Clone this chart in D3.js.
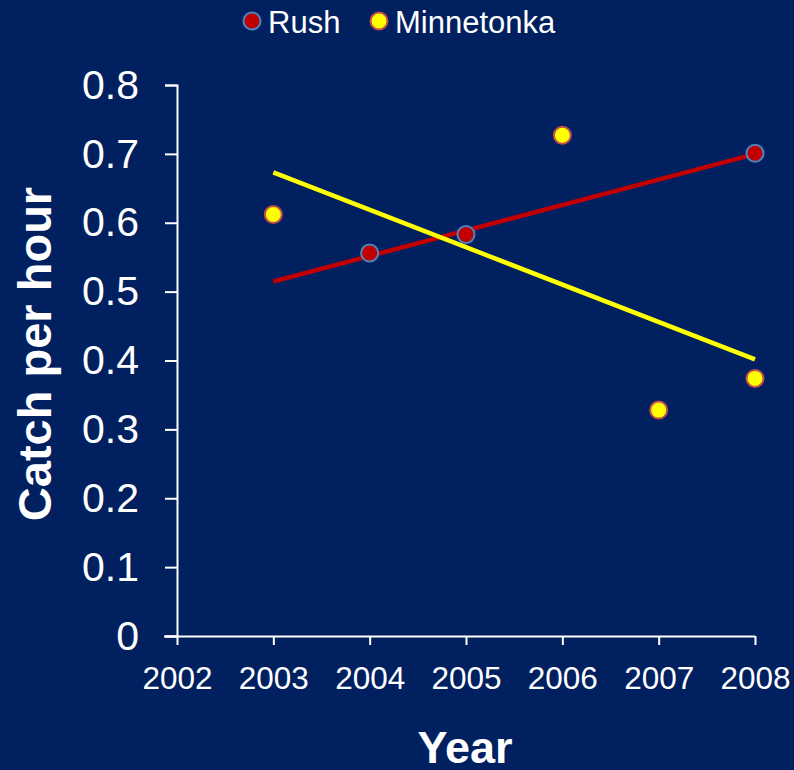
<!DOCTYPE html>
<html>
<head>
<meta charset="utf-8">
<script src="https://cdn.jsdelivr.net/npm/d3@7"></script>
<style>
  html, body { margin: 0; padding: 0; background: #002060; }
  svg { display: block; }
  text { font-family: "Liberation Sans", Arial, sans-serif; fill: #ffffff; }
</style>
</head>
<body>
<script>
// ---- data ----
const rushYears = [2004, 2005, 2008];
const rushValues = [0.556, 0.583, 0.701];
const minnYears = [2003, 2006, 2007, 2008];
const minnValues = [0.612, 0.727, 0.328, 0.374];
const xTicks = [2002, 2003, 2004, 2005, 2006, 2007, 2008];
const yTicks = [0, 0.1, 0.2, 0.3, 0.4, 0.5, 0.6, 0.7, 0.8];
const trendRange = [2003, 2008];

const W = 794, H = 770;
const svg = d3.select("body").append("svg").attr("width", W).attr("height", H);
svg.append("rect").attr("width", W).attr("height", H).attr("fill", "#002060");

const x = d3.scaleLinear().domain([2002, 2008]).range([177, 755]);
const y = d3.scaleLinear().domain([0, 0.8]).range([636, 85]);

// axes
const yAxis = svg.append("g").attr("transform", "translate(177,0)")
  .call(d3.axisLeft(y).tickValues(yTicks).tickSize(12).tickPadding(26)
    .tickFormat(d => d === 0 ? "0" : d3.format(".1f")(d)));
yAxis.select(".domain").attr("stroke", "#ffffff").attr("stroke-width", 2);
yAxis.selectAll(".tick line").attr("stroke", "#ffffff").attr("stroke-width", 2);
yAxis.selectAll(".tick text").attr("font-size", 41).attr("fill", "#fff")
  .attr("font-family", '"Liberation Sans", Arial, sans-serif');

const xAxis = svg.append("g").attr("transform", "translate(0,636)")
  .call(d3.axisBottom(x).tickValues(xTicks).tickSize(9).tickPadding(22)
    .tickFormat(d3.format("d")));
xAxis.select(".domain").attr("stroke", "#ffffff").attr("stroke-width", 2)
  .attr("d", "M164,0.5H755");
xAxis.selectAll(".tick line").attr("stroke", "#ffffff").attr("stroke-width", 2);
xAxis.selectAll(".tick text").attr("font-size", 31.5).attr("fill", "#fff")
  .attr("font-family", '"Liberation Sans", Arial, sans-serif');

// axis titles
svg.append("text").attr("transform", "translate(51,354) rotate(-90)")
  .attr("text-anchor", "middle").attr("font-size", 47).attr("font-weight", "bold")
  .text("Catch per hour");
svg.append("text").attr("x", 465).attr("y", 763)
  .attr("text-anchor", "middle").attr("font-size", 45).attr("font-weight", "bold")
  .text("Year");

// linear regression trendline
function trend(xs, ys) {
  const mx = d3.mean(xs), my = d3.mean(ys);
  let sxy = 0, sxx = 0;
  xs.forEach((v, i) => { sxy += (v - mx) * (ys[i] - my); sxx += (v - mx) * (v - mx); });
  const b = sxy / sxx, a = my - b * mx;
  return trendRange.map(t => [t, a + b * t]);
}
const line = d3.line().x(d => x(d[0])).y(d => y(d[1]));

const rushData = rushYears.map((v, i) => [v, rushValues[i]]);
const minnData = minnYears.map((v, i) => [v, minnValues[i]]);

svg.append("path").datum(trend(rushYears, rushValues)).attr("d", line)
  .attr("fill", "none").attr("stroke", "#C00000").attr("stroke-width", 4.5);

svg.selectAll(".rush").data(rushData).enter().append("circle")
  .attr("cx", d => x(d[0])).attr("cy", d => y(d[1])).attr("r", 8.5)
  .attr("fill", "#C00000").attr("stroke", "#4F81BD").attr("stroke-width", 2);

svg.selectAll(".minn").data(minnData).enter().append("circle")
  .attr("cx", d => x(d[0])).attr("cy", d => y(d[1])).attr("r", 8.5)
  .attr("fill", "#FFFF00").attr("stroke", "#C0504D").attr("stroke-width", 2);

svg.append("path").datum(trend(minnYears, minnValues)).attr("d", line)
  .attr("fill", "none").attr("stroke", "#FFFF00").attr("stroke-width", 4.5);

// legend
const legend = [
  { name: "Rush", fill: "#C00000", stroke: "#4F81BD", cx: 252 },
  { name: "Minnetonka", fill: "#FFFF00", stroke: "#C0504D", cx: 379 }
];
legend.forEach(l => {
  svg.append("circle").attr("cx", l.cx).attr("cy", 21).attr("r", 8.5)
    .attr("fill", l.fill).attr("stroke", l.stroke).attr("stroke-width", 2);
  svg.append("text").attr("x", l.cx + 16).attr("y", 33).attr("font-size", 31)
    .text(l.name);
});
</script>
</body>
</html>
